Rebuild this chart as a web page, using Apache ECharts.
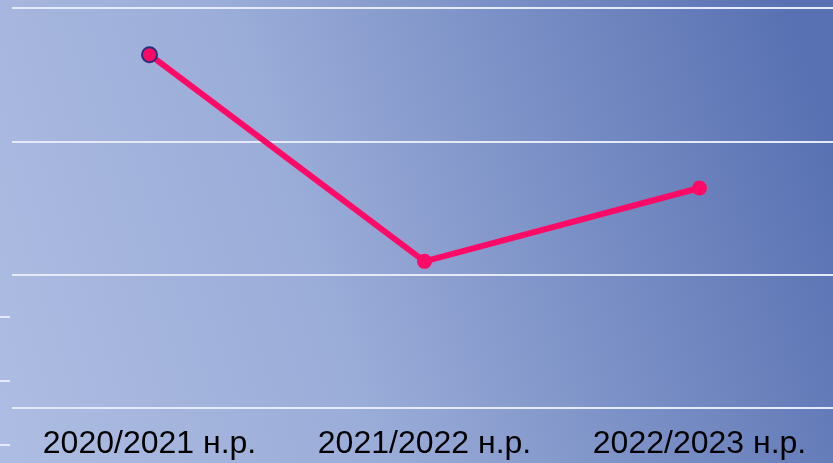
<!DOCTYPE html>
<html>
<head>
<meta charset="utf-8">
<script src="https://cdn.jsdelivr.net/npm/echarts@6/dist/echarts.min.js"></script>
<style>
  html, body { margin: 0; padding: 0; }
  #chart { width: 833px; height: 463px; }
</style>
</head>
<body>
<div id="chart"></div>
<script>
const categories = ['2020/2021 н.р.', '2021/2022 н.р.', '2022/2023 н.р.']
const values = [26.5, 11.0, 16.5]
const yMin = 0
const yMax = 30
const yStep = 10

const chart = echarts.init(document.getElementById('chart'))

const option = {
  backgroundColor: {
    type: 'linear',
    x: 0, y: 0.9, x2: 1, y2: 0.3,
    colorStops: [
      { offset: 0, color: '#adbce2' },
      { offset: 0.4, color: '#9aacd8' },
      { offset: 1, color: '#5871b2' }
    ]
  },
  grid: {
    top: 8,
    bottom: 55,
    left: 12,
    right: -4,
    outerBoundsMode: 'none'
  },
  xAxis: {
    type: 'category',
    data: categories,
    axisLine: { show: false },
    axisTick: { show: false },
    axisLabel: {
      color: '#000',
      fontSize: 32,
      fontFamily: 'Liberation Sans, Arial, sans-serif',
      margin: 20,
      interval: 0,
      hideOverlap: false
    }
  },
  yAxis: {
    type: 'value',
    min: yMin,
    max: yMax,
    interval: yStep,
    axisLabel: { show: false },
    axisLine: { show: false },
    axisTick: { show: false },
    splitLine: {
      lineStyle: { color: '#e6eaf7', width: 2 }
    }
  },
  graphic: [317, 381, 445].map(y => ({
    type: 'line',
    shape: { x1: 0, y1: y, x2: 10, y2: y },
    style: { stroke: '#e6eaf7', lineWidth: 2 }
  })),
  series: [
    {
      type: 'line',
      data: values.map((v, i) => i === 0
        ? { value: v, itemStyle: { borderColor: '#27307a', borderWidth: 2 } }
        : v),
      symbol: 'circle',
      symbolSize: 15,
      lineStyle: { color: '#ff0a66', width: 6 },
      itemStyle: { color: '#ff0a66', borderWidth: 0 }
    }
  ]
}

chart.setOption(option)
</script>
</body>
</html>
